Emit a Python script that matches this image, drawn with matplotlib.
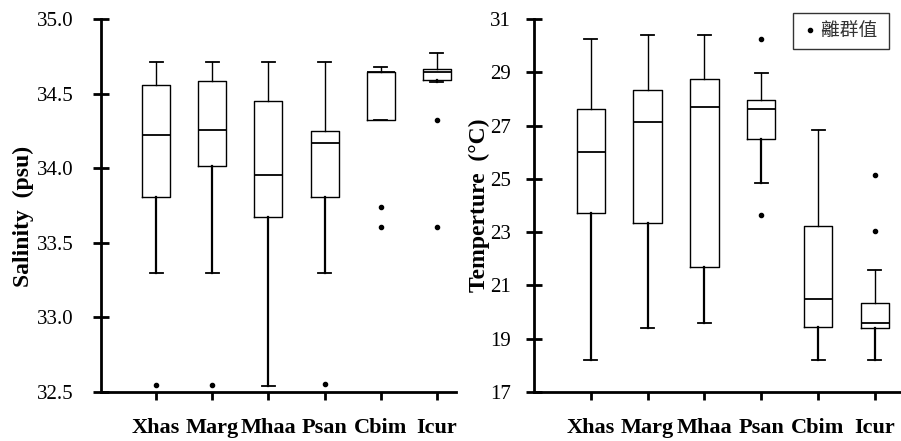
import matplotlib
matplotlib.use("Agg")
import matplotlib.pyplot as plt
from matplotlib.lines import Line2D

plt.rcParams['font.family'] = ['Liberation Serif', 'Noto Sans CJK TC', 'DejaVu Sans']

species = ["Xhas", "Marg", "Mhaa", "Psan", "Cbim", "Icur"]

# salinity box stats: low whisker, Q1, median, Q3, high whisker
sal_low = [33.30, 33.30, 32.54, 33.30, 34.323, 34.576]
sal_q1 = [33.81, 34.015, 33.675, 33.81, 34.323, 34.591]
sal_med = [34.225, 34.258, 33.952, 34.171, 34.643, 34.647]
sal_q3 = [34.556, 34.582, 34.448, 34.249, 34.643, 34.667]
sal_high = [34.71, 34.714, 34.714, 34.71, 34.676, 34.770]
sal_out = [[32.545], [32.545], [], [32.551], [33.742, 33.608], [34.325, 33.608]]

# temperature box stats
tmp_low = [18.20, 19.39, 19.60, 24.86, 18.20, 18.20]
tmp_q1 = [23.72, 23.35, 21.69, 26.50, 19.44, 19.39]
tmp_med = [26.01, 27.15, 27.69, 27.63, 20.50, 19.60]
tmp_q3 = [27.63, 28.35, 28.74, 27.95, 23.22, 20.35]
tmp_high = [30.24, 30.39, 30.39, 28.97, 26.85, 21.59]
tmp_out = [[], [], [], [30.26, 23.64], [], [25.14, 23.03]]


def make_stats(low, q1, med, q3, high, out):
    stats = []
    for i in range(len(species)):
        stats.append(dict(label=species[i], whislo=low[i], q1=q1[i], med=med[i],
                          q3=q3[i], whishi=high[i], fliers=out[i]))
    return stats


def draw(ax, stats, ylim, yticks, fmt, ylabel, xlim, ypad, lab_xy):
    pos = list(range(1, len(species) + 1))
    art = ax.bxp(stats, positions=pos, widths=0.5, capwidths=0.23,
                 boxprops=dict(color='black', linewidth=1.0),
                 medianprops=dict(color='black', linewidth=1.3),
                 whiskerprops=dict(color='black', linewidth=1.0),
                 capprops=dict(color='black', linewidth=1.3),
                 flierprops=dict(marker='o', markersize=3, markerfacecolor='black',
                                 markeredgecolor='black', linestyle='none'))
    # lower whiskers drawn heavier, like the original
    for w in art['whiskers'][0::2]:
        w.set_linewidth(1.6)
    ax.set_xlim(*xlim)
    ax.set_ylim(*ylim)
    ax.set_yticks(yticks)
    ax.set_yticklabels([fmt % v for v in yticks])
    ax.set_xticks(pos)
    ax.set_xticklabels(species, fontweight='bold', fontsize=16)
    ax.set_ylabel(ylabel, fontweight='bold', fontsize=17)
    ax.yaxis.set_label_coords(*lab_xy)
    for s in ['top', 'right']:
        ax.spines[s].set_visible(False)
    for s in ['left', 'bottom']:
        ax.spines[s].set_linewidth(2)
    ax.tick_params(axis='y', direction='inout', length=11, width=2, labelsize=15, pad=ypad)
    ax.tick_params(axis='x', direction='out', length=6, width=2, pad=13)
    ax.patch.set_alpha(0)


fig = plt.figure(figsize=(9.01, 4.41), dpi=100, facecolor='w')
ax1 = fig.add_axes([0.1121, 0.1111, 0.3940, 0.8458])
ax2 = fig.add_axes([0.5927, 0.1111, 0.4073, 0.8458])

draw(ax1, make_stats(sal_low, sal_q1, sal_med, sal_q3, sal_high, sal_out),
     (32.5, 35.0), [32.5, 33.0, 33.5, 34.0, 34.5, 35.0], "%.1f",
     "Salinity  (psu)", (0.02, 6.34), 14, (-0.19, 0.47))
draw(ax2, make_stats(tmp_low, tmp_q1, tmp_med, tmp_q3, tmp_high, tmp_out),
     (17, 31), [17, 19, 21, 23, 25, 27, 29, 31], "%d",
     "Temperture  (°C)", (0.0, 6.46), 11, (-0.12, 0.50))

handle = Line2D([], [], marker='o', markersize=3, color='black', linestyle='none')
leg = ax2.legend([handle], ["離群值 "], loc='upper right', bbox_to_anchor=(0.967, 1.016),
                 borderaxespad=0, frameon=True, fancybox=False, handlelength=1.0,
                 handletextpad=0.1, borderpad=0.4,
                 prop=dict(family=['Noto Sans CJK TC'], size=13.5))
leg.get_frame().set_edgecolor('black')
leg.get_frame().set_linewidth(1.0)
for t in leg.get_texts():
    t.set_color('#333333')

fig.savefig("out.png", dpi=100)
